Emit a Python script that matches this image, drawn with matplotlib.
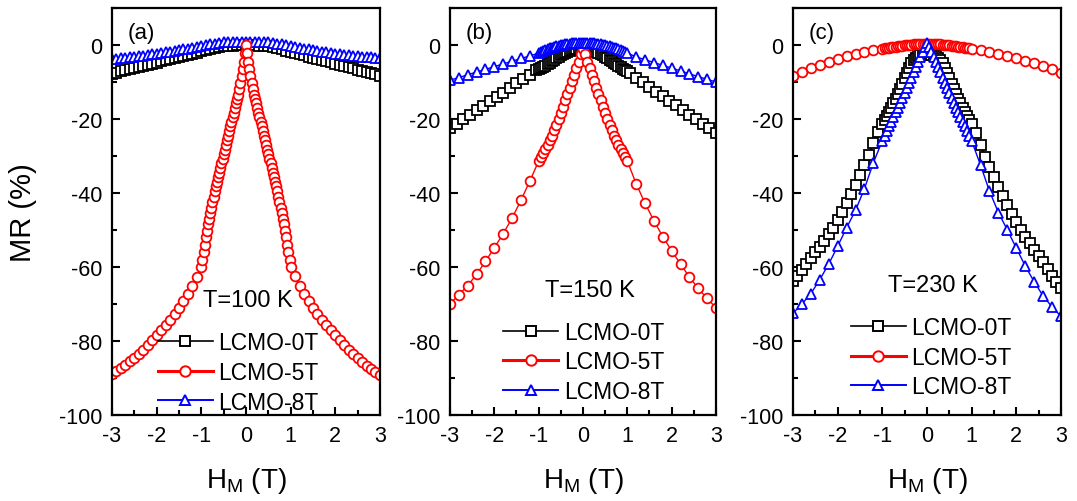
import matplotlib
matplotlib.use("Agg")
import matplotlib.pyplot as plt
from matplotlib.ticker import MultipleLocator

plt.rcParams['font.family'] = ['Liberation Sans', 'DejaVu Sans']
plt.rcParams['mathtext.fontset'] = 'custom'
plt.rcParams['mathtext.rm'] = 'Liberation Sans'
plt.rcParams['mathtext.it'] = 'Liberation Sans:italic'
plt.rcParams['axes.unicode_minus'] = False

# --- field grids (T) ---
H_FINE = [-3.0, -2.9, -2.8, -2.7, -2.6, -2.5, -2.4, -2.3, -2.2, -2.1,
          -2.0, -1.9, -1.8, -1.7, -1.6, -1.5, -1.4, -1.3, -1.2, -1.1,
          -1.0, -0.9, -0.8, -0.7, -0.6, -0.5, -0.4, -0.3, -0.2, -0.1,
          0.0, 0.1, 0.2, 0.3, 0.4, 0.5, 0.6, 0.7, 0.8, 0.9,
          1.0, 1.1, 1.2, 1.3, 1.4, 1.5, 1.6, 1.7, 1.8, 1.9,
          2.0, 2.1, 2.2, 2.3, 2.4, 2.5, 2.6, 2.7, 2.8, 2.9, 3.0]
H_MID = [-1.0, -0.95, -0.9, -0.85, -0.8, -0.75, -0.7, -0.65, -0.6, -0.55,
         -0.5, -0.45, -0.4, -0.35, -0.3, -0.25, -0.2, -0.15, -0.1, -0.05,
         0.0, 0.05, 0.1, 0.15, 0.2, 0.25, 0.3, 0.35, 0.4, 0.45,
         0.5, 0.55, 0.6, 0.65, 0.7, 0.75, 0.8, 0.85, 0.9, 0.95, 1.0]
H_MID2 = [-1.0, -0.975, -0.95, -0.925, -0.9, -0.875, -0.85, -0.825, -0.8, -0.775,
          -0.75, -0.725, -0.7, -0.675, -0.65, -0.625, -0.6, -0.575, -0.55, -0.525,
          -0.5, -0.475, -0.45, -0.425, -0.4, -0.375, -0.35, -0.325, -0.3, -0.275,
          -0.25, -0.225, -0.2, -0.175, -0.15, -0.125, -0.1, -0.075, -0.05, -0.025,
          0.0,
          0.025, 0.05, 0.075, 0.1, 0.125, 0.15, 0.175, 0.2, 0.225, 0.25,
          0.275, 0.3, 0.325, 0.35, 0.375, 0.4, 0.425, 0.45, 0.475, 0.5,
          0.525, 0.55, 0.575, 0.6, 0.625, 0.65, 0.675, 0.7, 0.725, 0.75,
          0.775, 0.8, 0.825, 0.85, 0.875, 0.9, 0.925, 0.95, 0.975, 1.0]
H_L10 = [-3.0, -2.9, -2.8, -2.7, -2.6, -2.5, -2.4, -2.3, -2.2, -2.1,
         -2.0, -1.9, -1.8, -1.7, -1.6, -1.5, -1.4, -1.3, -1.2, -1.1]
H_R10 = [1.1, 1.2, 1.3, 1.4, 1.5, 1.6, 1.7, 1.8, 1.9, 2.0,
         2.1, 2.2, 2.3, 2.4, 2.5, 2.6, 2.7, 2.8, 2.9, 3.0]
H_L20 = [-3.0, -2.8, -2.6, -2.4, -2.2, -2.0, -1.8, -1.6, -1.4, -1.2]
H_R20 = [1.2, 1.4, 1.6, 1.8, 2.0, 2.2, 2.4, 2.6, 2.8, 3.0]
H_L15 = [-3.0, -2.85, -2.7, -2.55, -2.4, -2.25, -2.1, -1.95, -1.8, -1.65,
         -1.5, -1.35, -1.2, -1.05]
H_R15 = [1.05, 1.2, 1.35, 1.5, 1.65, 1.8, 1.95, 2.1, 2.25, 2.4,
         2.55, 2.7, 2.85, 3.0]

# --- (a) T = 100 K ---
A_0T = [-7.8, -7.45, -7.15, -6.85, -6.55, -6.25, -5.95, -5.65, -5.35, -5.05,
        -4.75, -4.45, -4.15, -3.85, -3.55, -3.25, -2.95, -2.65, -2.35, -2.05,
        -1.75, -1.45, -1.15, -0.85, -0.55, -0.38, -0.25, -0.15, -0.08, -0.02,
        0.0,
        -0.02, -0.08, -0.16, -0.27, -0.4, -0.58, -0.9, -1.2, -1.52, -1.84,
        -2.16, -2.48, -2.8, -3.12, -3.44, -3.76, -4.08, -4.4, -4.72, -5.04,
        -5.36, -5.68, -6.0, -6.32, -6.64, -6.96, -7.28, -7.6, -7.92, -8.3]
A_8T = [-3.8, -3.7, -3.6, -3.45, -3.3, -3.15, -3.0, -2.85, -2.7, -2.55,
        -2.4, -2.2, -2.0, -1.8, -1.6, -1.4, -1.2, -0.95, -0.7, -0.45,
        -0.2, 0.0, 0.2, 0.4, 0.6, 0.7, 0.75, 0.8, 0.85, 0.9,
        0.9,
        0.9, 0.85, 0.8, 0.75, 0.7, 0.6, 0.4, 0.2, 0.0, -0.2,
        -0.45, -0.7, -0.95, -1.2, -1.4, -1.6, -1.8, -2.0, -2.2, -2.35,
        -2.5, -2.65, -2.8, -2.95, -3.05, -3.15, -3.25, -3.35, -3.45, -3.55]
A_5T_L = [-88.8, -88.0, -87.2, -86.4, -85.5, -84.5, -83.4, -82.3, -81.0, -79.7,
          -78.4, -77.0, -75.6, -74.2, -72.7, -71.0, -69.3, -67.4, -65.2, -62.8]
A_5T_M = [-60.0, -58.0, -56.0, -54.0, -52.0, -50.2, -48.5, -47.0, -45.5, -44.0,
          -42.5, -41.0, -39.5, -38.2, -37.0, -35.8, -34.5, -33.3, -32.0, -30.8,
          -29.5, -28.3, -27.0, -25.8, -24.5, -23.3, -22.0, -20.8, -19.5, -18.3,
          -17.0, -15.8, -14.7, -13.4, -12.0, -10.4, -8.5, -6.6, -4.5, -2.3,
          0.0,
          -2.3, -4.5, -6.6, -8.5, -10.4, -12.0, -13.4, -14.7, -15.8, -17.0,
          -18.3, -19.5, -20.8, -22.0, -23.3, -24.5, -25.8, -27.0, -28.3, -29.5,
          -30.8, -32.0, -33.3, -34.5, -35.8, -37.0, -38.2, -39.5, -41.0, -42.5,
          -44.0, -45.5, -47.0, -48.5, -50.2, -52.0, -54.0, -56.0, -58.0, -60.0]
A_5T_R = [-62.5, -65.0, -67.2, -69.2, -71.0, -72.7, -74.2, -75.7, -77.1, -78.5,
          -79.8, -81.1, -82.4, -83.6, -84.7, -85.8, -86.8, -87.7, -88.5, -89.2]

# --- (b) T = 150 K ---
B_0T_L = [-22.5, -21.3, -20.1, -18.9, -17.7, -16.5, -15.25, -14.05, -12.85, -11.6,
          -10.4, -9.2, -8.0, -6.8]
B_0T_M = [-6.5, -6.2, -5.9, -5.6, -5.2, -4.8, -4.4, -4.0, -3.6, -3.2,
          -2.8, -2.5, -2.2, -1.9, -1.6, -1.4, -1.2, -1.1, -1.0, -1.0,
          -1.0,
          -1.0, -1.1, -1.2, -1.4, -1.6, -1.9, -2.2, -2.5, -2.8, -3.2,
          -3.6, -4.0, -4.4, -4.8, -5.2, -5.6, -6.0, -6.4, -6.7, -7.0]
B_0T_R = [-7.6, -8.85, -10.1, -11.35, -12.6, -13.8, -15.05, -16.3, -17.6, -18.8,
          -20.1, -21.3, -22.5, -23.8]
B_5T_L = [-70.0, -67.5, -65.0, -62.0, -58.5, -54.8, -51.0, -46.8, -42.0, -36.8]
B_5T_M = [-31.4, -30.4, -29.3, -28.2, -27.0, -25.8, -24.5, -23.0, -21.5, -20.0,
          -18.5, -16.8, -15.0, -13.3, -11.5, -9.8, -8.0, -6.3, -4.5, -2.5,
          -1.0,
          -2.5, -4.5, -6.3, -8.0, -9.8, -11.5, -13.3, -15.0, -16.8, -18.5,
          -20.0, -21.5, -23.0, -24.5, -25.8, -27.0, -28.2, -29.3, -30.4, -31.4]
B_5T_R = [-37.5, -42.8, -47.5, -51.8, -55.6, -59.2, -62.7, -65.8, -68.5, -71.0]
B_8T_L = [-9.5, -8.8, -8.05, -7.3, -6.6, -5.85, -5.1, -4.4, -3.65, -2.95]
B_8T_M = [-2.2, -1.9, -1.6, -1.35, -1.1, -0.9, -0.7, -0.5, -0.3, -0.15,
          0.0, 0.1, 0.2, 0.3, 0.4, 0.45, 0.5, 0.55, 0.6, 0.6,
          0.6,
          0.6, 0.6, 0.55, 0.5, 0.45, 0.4, 0.3, 0.2, 0.1, 0.0,
          -0.15, -0.3, -0.5, -0.7, -0.9, -1.1, -1.35, -1.6, -1.9, -2.2]
B_8T_R = [-3.2, -4.0, -4.75, -5.5, -6.25, -7.0, -7.8, -8.55, -9.3, -10.0]

# --- (c) T = 230 K ---
C_0T_L = [-63.8, -62.3, -60.8, -59.2, -57.6, -56.0, -54.5, -52.9, -51.2, -49.4,
          -47.3, -45.1, -42.8, -40.3, -37.8, -35.2, -32.5, -29.6, -26.5, -23.4]
C_0T_M = [-21.3, -20.3, -19.2, -18.1, -17.0, -15.8, -14.6, -13.3, -12.0, -10.5,
          -9.0, -7.6, -6.2, -5.0, -4.1, -3.5, -3.1, -2.8, -2.6, -2.5,
          -2.5,
          -2.5, -2.6, -2.8, -3.1, -3.5, -4.1, -5.0, -6.2, -7.6, -9.0,
          -10.5, -12.0, -13.3, -14.6, -15.8, -17.0, -18.1, -19.2, -20.3, -21.3]
C_0T_R = [-23.7, -27.0, -30.2, -33.1, -35.8, -38.4, -40.9, -43.3, -45.6, -47.8,
          -49.9, -51.8, -53.6, -55.3, -57.0, -58.7, -60.5, -62.3, -64.0, -65.7]
C_5T_L = [-8.3, -7.2, -6.2, -5.3, -4.5, -3.7, -3.0, -2.4, -1.8, -1.3]
C_5T_M = [-1.0, -0.9, -0.8, -0.7, -0.6, -0.5, -0.41, -0.32, -0.23, -0.15,
          -0.07, 0.0, 0.06, 0.12, 0.18, 0.22, 0.25, 0.28, 0.3, 0.3,
          0.3,
          0.3, 0.3, 0.28, 0.25, 0.22, 0.18, 0.12, 0.06, 0.0, -0.07,
          -0.15, -0.23, -0.32, -0.41, -0.5, -0.6, -0.7, -0.8, -0.9, -1.0]
C_5T_R = [-1.4, -1.9, -2.4, -3.0, -3.6, -4.3, -5.0, -5.8, -6.6, -7.5]
C_8T_L = [-72.5, -70.0, -67.2, -63.4, -59.2, -54.4, -49.4, -44.7, -38.8, -31.8]
C_8T_M = [-25.9, -24.6, -23.3, -22.0, -20.8, -19.5, -18.2, -16.9, -15.6, -14.3,
          -13.0, -11.6, -10.2, -8.8, -7.4, -6.0, -4.6, -3.2, -1.8, -0.5,
          0.5,
          -0.5, -1.8, -3.2, -4.6, -6.0, -7.4, -8.8, -10.2, -11.6, -13.0,
          -14.3, -15.6, -16.9, -18.2, -19.5, -20.8, -22.0, -23.3, -24.6, -25.9]
C_8T_R = [-32.5, -39.5, -45.3, -50.0, -54.9, -59.7, -64.0, -67.8, -70.8, -73.3]

LABELS = ["LCMO-0T", "LCMO-5T", "LCMO-8T"]
TEMPS = ["T=100 K", "T=150 K", "T=230 K"]
PANELS = ["(a)", "(b)", "(c)"]

# style per sample: colour, marker, legend line width
STYLE = {
    "0T": dict(color="black", marker="s", lw=1.2),
    "5T": dict(color="red", marker="o", lw=2.2),
    "8T": dict(color="blue", marker="^", lw=1.4),
}

panels = [
    # (series in drawing order, T text pos, legend anchor)
    ([("0T", H_FINE, A_0T),
      ("8T", H_FINE, A_8T),
      ("5T", H_L10 + H_MID2 + H_R10, A_5T_L + A_5T_M + A_5T_R)],
     (0.05, -69.0), (0.17, 0.207)),
    ([("0T", H_L15 + H_MID + H_R15, B_0T_L + B_0T_M + B_0T_R),
      ("5T", H_L20 + H_MID + H_R20, B_5T_L + B_5T_M + B_5T_R),
      ("8T", H_L20 + H_MID + H_R20, B_8T_L + B_8T_M + B_8T_R)],
     (0.16, -66.2), (0.20, 0.232)),
    ([("0T", H_L10 + H_MID + H_R10, C_0T_L + C_0T_M + C_0T_R),
      ("5T", H_L20 + H_MID + H_R20, C_5T_L + C_5T_M + C_5T_R),
      ("8T", H_L20 + H_MID + H_R20, C_8T_L + C_8T_M + C_8T_R)],
     (0.13, -64.9), (0.215, 0.244)),
]

fig = plt.figure(figsize=(10.77, 5.02), dpi=100)
lefts = [0.104, 0.4178, 0.7363]
widths = [0.2488, 0.247, 0.2488]

for i, (series, tpos, lpos) in enumerate(panels):
    ax = fig.add_axes([lefts[i], 0.1713, widths[i], 0.8108])
    for key, hx, hy in series:
        st = STYLE[key]
        ax.plot(hx, hy, color=st["color"], lw=1.0,
                marker=st["marker"], ms=7, mew=1.3,
                mfc="white", mec=st["color"])
    # legend proxies so legend line widths match the reference
    leg_h = []
    for key in ["0T", "5T", "8T"]:
        st = STYLE[key]
        h, = ax.plot([], [], color=st["color"], lw=st["lw"], marker=st["marker"],
                     ms=7.5, mew=1.4, mfc="white", mec=st["color"])
        leg_h.append(h)
    ax.legend(leg_h, LABELS, loc="upper left", bbox_to_anchor=lpos,
              frameon=False, fontsize=16.5, handlelength=2.4,
              handletextpad=0.25, labelspacing=0.3, borderpad=0,
              borderaxespad=0, numpoints=1)

    ax.set_xlim(-3, 3)
    ax.set_ylim(-100, 10)
    ax.xaxis.set_major_locator(MultipleLocator(1))
    ax.xaxis.set_minor_locator(MultipleLocator(0.5))
    ax.yaxis.set_major_locator(MultipleLocator(20))
    ax.yaxis.set_minor_locator(MultipleLocator(10))
    ax.tick_params(which="both", direction="in", width=1.5, labelsize=15.5,
                   pad=7, top=False, right=False)
    ax.tick_params(which="major", length=6)
    ax.tick_params(which="minor", length=3.5)
    for sp in ax.spines.values():
        sp.set_linewidth(1.6)

    ax.text(tpos[0], tpos[1], TEMPS[i], ha="center", va="center", fontsize=17)
    ax.text(0.06, 0.941, PANELS[i], transform=ax.transAxes, ha="left",
            va="center", fontsize=16)
    ax.set_xlabel(r"$\mathregular{H_M}$ (T)", fontsize=20, labelpad=14)
    if i == 0:
        ax.set_ylabel("MR (%)", fontsize=21, labelpad=16)

fig.savefig("out.png", dpi=100)
